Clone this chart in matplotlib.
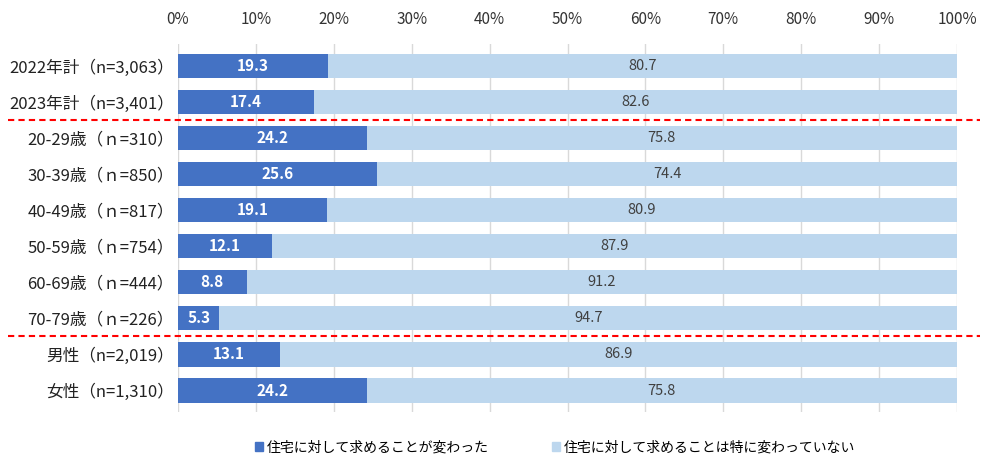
import matplotlib
matplotlib.use("Agg")
import matplotlib.pyplot as plt
from matplotlib.lines import Line2D
from matplotlib.patches import Patch
import matplotlib.transforms as mtransforms

plt.rcParams['font.family'] = ['Noto Sans CJK JP', 'DejaVu Sans']

categories = ["2022年計（n=3,063）", "2023年計（n=3,401）", "20-29歳（ｎ=310）", "30-39歳（ｎ=850）",
              "40-49歳（ｎ=817）", "50-59歳（ｎ=754）", "60-69歳（ｎ=444）", "70-79歳（ｎ=226）",
              "男性（n=2,019）", "女性（n=1,310）"]
changed = [19.3, 17.4, 24.2, 25.6, 19.1, 12.1, 8.8, 5.3, 13.1, 24.2]
not_changed = [80.7, 82.6, 75.8, 74.4, 80.9, 87.9, 91.2, 94.7, 86.9, 75.8]
series_names = ["住宅に対して求めることが変わった", "住宅に対して求めることは特に変わっていない"]
xticks = [0, 10, 20, 30, 40, 50, 60, 70, 80, 90, 100]
separators = [1.5, 7.5]

c_dark = "#4472C4"
c_light = "#BDD7EE"

fig = plt.figure(figsize=(10, 4.7), dpi=100)
ax = fig.add_axes([0.178, 0.123, 0.779, 0.783])

y = list(range(len(categories)))
ax.barh(y, changed, height=0.67, color=c_dark, zorder=3)
ax.barh(y, not_changed, left=changed, height=0.67, color=c_light, zorder=3)

for i in y:
    ax.text(changed[i] / 2, i, f"{changed[i]:.1f}", ha="center", va="center",
            color="white", fontsize=11, fontweight="bold", zorder=4)
    ax.text(changed[i] + not_changed[i] / 2, i, f"{not_changed[i]:.1f}", ha="center", va="center",
            color="#404040", fontsize=10.5, zorder=4)

ax.set_xlim(0, 100)
ax.set_ylim(len(categories) - 0.4, -0.6)
ax.set_xticks(xticks)
ax.set_xticklabels([f"{t}%" for t in xticks], fontsize=11, color="#333333")
ax.xaxis.tick_top()
ax.tick_params(axis="x", length=0, pad=12)
ax.set_yticks(y)
ax.set_yticklabels(categories, fontsize=12, color="#222222")
ax.tick_params(axis="y", length=0, pad=3)
ax.grid(axis="x", color="#D9D9D9", linewidth=1, zorder=0)
for s in ax.spines.values():
    s.set_visible(False)

trans = mtransforms.blended_transform_factory(fig.transFigure, ax.transData)
for sep in separators:
    ax.add_line(Line2D([0.008, 0.98], [sep, sep], transform=trans, color="#FF0000",
                       linestyle=(0, (3, 2)), linewidth=1.5, clip_on=False, zorder=5))

handles = [Patch(color=c_dark), Patch(color=c_light)]
fig.legend(handles, series_names, loc="center", bbox_to_anchor=(0.555, 0.048), ncol=2,
           frameon=False, fontsize=10, handlelength=0.6, handleheight=0.6,
           columnspacing=4.5, handletextpad=0.3)

fig.savefig("out.png", dpi=100)
